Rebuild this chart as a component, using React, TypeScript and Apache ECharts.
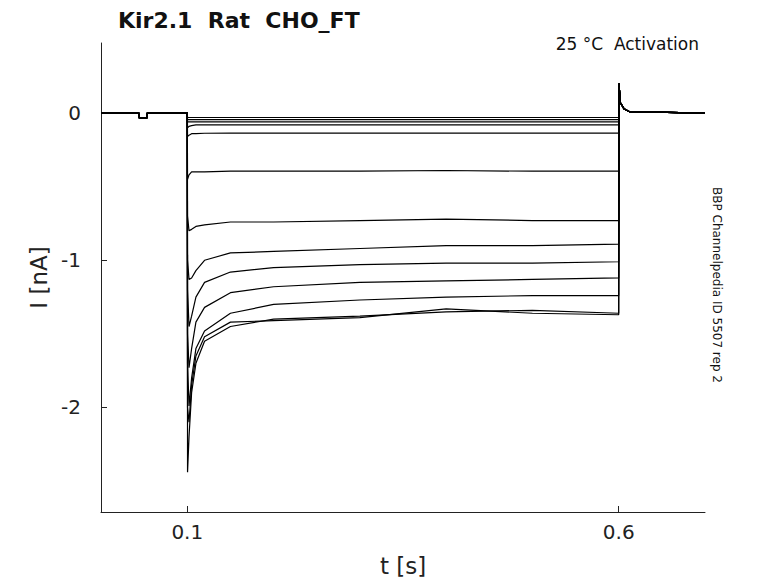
import React, { useEffect, useRef } from "react";
import * as echarts from "echarts";

const keyTimes = [0, 0.044, 0.0445, 0.053, 0.0535, 0.1, 0.1003, 0.102, 0.105, 0.11, 0.12, 0.15, 0.2, 0.3, 0.4, 0.5, 0.6, 0.6003, 0.602, 0.606, 0.612, 0.7];
const holdPrefix = [0, 0, -0.035, -0.035, 0, 0];
const tailSuffix = [0.2, 0.07, 0.03, 0.01, 0];
const stepTraces = [
  [-0.03, -0.03, -0.03, -0.03, -0.03, -0.03, -0.03, -0.03, -0.03, -0.03, -0.03],
  [-0.045, -0.045, -0.045, -0.045, -0.045, -0.045, -0.045, -0.045, -0.045, -0.045, -0.045],
  [-0.06, -0.06, -0.06, -0.06, -0.06, -0.06, -0.06, -0.06, -0.06, -0.06, -0.06],
  [-0.1, -0.09, -0.085, -0.08, -0.08, -0.08, -0.08, -0.08, -0.08, -0.08, -0.08],
  [-0.16, -0.15, -0.14, -0.14, -0.137, -0.136, -0.136, -0.136, -0.136, -0.136, -0.136],
  [-0.45, -0.42, -0.4, -0.4, -0.4, -0.395, -0.395, -0.395, -0.39, -0.395, -0.395],
  [-0.7, -0.8, -0.79, -0.77, -0.76, -0.74, -0.74, -0.73, -0.72, -0.73, -0.73],
  [-1.0, -1.13, -1.12, -1.07, -1.0, -0.95, -0.94, -0.92, -0.9, -0.9, -0.89],
  [-1.2, -1.45, -1.38, -1.25, -1.15, -1.08, -1.05, -1.03, -1.02, -1.02, -1.01],
  [-1.5, -1.73, -1.6, -1.42, -1.32, -1.22, -1.18, -1.15, -1.14, -1.13, -1.12],
  [-1.7, -1.99, -1.8, -1.6, -1.48, -1.36, -1.3, -1.27, -1.25, -1.24, -1.24],
  [-2.44, -2.2, -1.9, -1.7, -1.55, -1.45, -1.4, -1.38, -1.35, -1.34, -1.36],
  [-2.0, -2.1, -1.85, -1.65, -1.52, -1.42, -1.41, -1.39, -1.33, -1.36, -1.37],
];
const xTicks = [0.1, 0.6];
const yTicks = [-2, -1, 0];

export default function App() {
  const ref = useRef<HTMLDivElement>(null);
  useEffect(() => {
    const chart = echarts.init(ref.current!, null, { renderer: "svg" });
    const font = "DejaVu Sans";
    const series = stepTraces.map((mid) => {
      const vals = [...holdPrefix, ...mid, ...tailSuffix];
      return {
        type: "line",
        data: keyTimes.map((t, i) => [t, vals[i]]),
        showSymbol: false,
        lineStyle: { color: "#000", width: 1.2 },
        silent: true,
      };
    });
    chart.setOption({
      animation: false,
      textStyle: { fontFamily: font },
      grid: { left: 101, right: 73, top: 43, bottom: 71 },
      title: [
        { text: "Kir2.1  Rat  CHO_FT", left: 113, top: 4, textStyle: { fontSize: 22, fontWeight: "bold", color: "#111", fontFamily: font } },
        { text: "25 °C  Activation", right: 74, top: 30, textStyle: { fontSize: 17, fontWeight: "normal", color: "#111", fontFamily: font } },
      ],
      graphic: [
        { type: "text", x: 717, y: 285, rotation: -Math.PI / 2, style: { text: "BBP Channelpedia ID 5507 rep 2", fontSize: 12, fill: "#111", fontFamily: font, align: "center", verticalAlign: "middle" } },
      ],
      xAxis: {
        type: "value", min: 0, max: 0.7,
        name: "t [s]", nameLocation: "middle", nameGap: 42, nameTextStyle: { fontSize: 23, color: "#222" },
        axisLine: { show: true, onZero: false, lineStyle: { color: "#222" } },
        axisTick: { inside: true, length: 6, customValues: xTicks, lineStyle: { color: "#222" } },
        axisLabel: { customValues: xTicks, fontSize: 20, color: "#222", margin: 10 },
        splitLine: { show: false },
      },
      yAxis: {
        type: "value", min: -2.71, max: 0.476,
        name: "I [nA]", nameLocation: "middle", nameGap: 40, nameTextStyle: { fontSize: 23, color: "#222" },
        axisLine: { show: true, onZero: false, lineStyle: { color: "#222" } },
        axisTick: { show: true, inside: true, length: 6, customValues: yTicks, lineStyle: { color: "#222" } },
        axisLabel: { customValues: yTicks, fontSize: 20, color: "#222", margin: 20 },
        splitLine: { show: false },
      },
      series,
    });
    return () => chart.dispose();
  }, []);
  return <div ref={ref} style={{ position: "absolute", left: 0, top: 0, width: 778, height: 583, background: "#fff" }} />;
}
